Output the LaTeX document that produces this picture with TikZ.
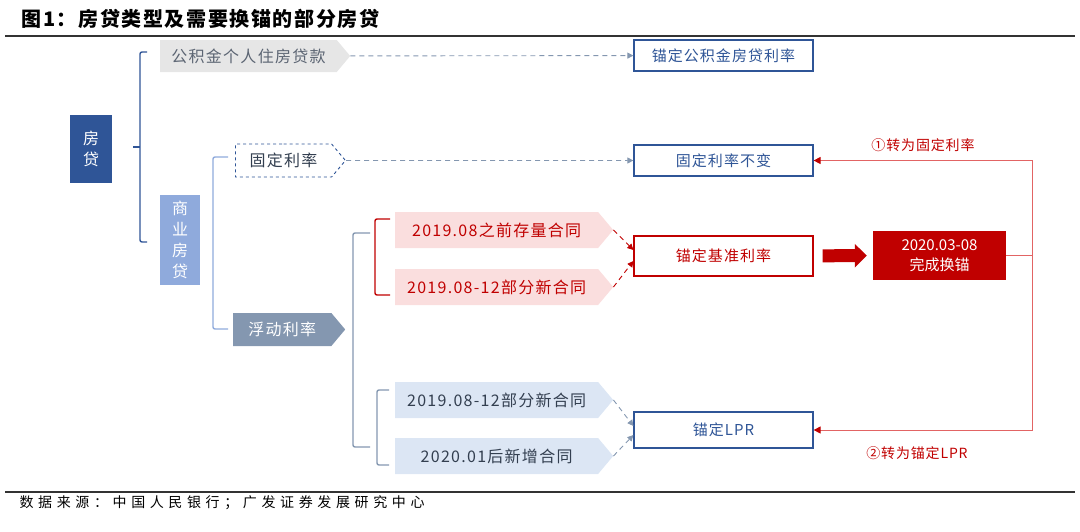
\documentclass[tikz,border=0pt]{standalone}
\usepackage{fontspec}
\setmainfont{Noto Sans CJK SC}
\usetikzlibrary{shapes.symbols,arrows.meta}
\definecolor{dnavy}{HTML}{2F5597}
\definecolor{lblue}{HTML}{8FAADC}
\definecolor{gblue}{HTML}{8497B0}
\definecolor{dred}{HTML}{C00000}
\definecolor{lred}{HTML}{E26464}
\definecolor{pinkf}{HTML}{FADEDE}
\definecolor{bluef}{HTML}{DCE6F4}
\definecolor{grayf}{HTML}{E6E6E6}
\definecolor{dtext}{HTML}{333F50}
\tikzset{
  box/.style={draw=dnavy,line width=1.2pt,fill=white,text=dnavy,minimum width=179pt,inner sep=0pt,
    font=\fontsize{15}{15}\selectfont\addfontfeature{LetterSpace=7}},
  tag/.style={signal,signal to=east,signal pointer angle=100,inner sep=0pt,anchor=west,
    font=\fontsize{16}{16}\selectfont\addfontfeature{LetterSpace=8}},
  vbox/.style={text=white,align=center,inner sep=0pt,font=\fontsize{16}{21}\selectfont},
  link/.style={gblue,line width=0.9pt,dash pattern=on 5pt off 4pt,-{Triangle[length=6pt,width=6pt]}},
  rlink/.style={dred,line width=0.9pt,dash pattern=on 5pt off 4pt,-{Triangle[length=6pt,width=6pt]}},
  swap/.style={lred,line width=0.9pt,-{Triangle[length=7pt,width=7pt,fill=dred,color=dred]}},
  bra/.style={line width=1.4pt,rounded corners=2pt}
}
\begin{document}
\begin{tikzpicture}[x=1pt,y=-1pt]
\useasboundingbox (0,0) rectangle (1080,531);
\node[anchor=west,font=\fontsize{20}{20}\selectfont\bfseries\addfontfeature{LetterSpace=8}] (t1) at (18,19) {图1：房贷类型及需要换锚的部分房贷};
\draw[line width=2pt,black!80] (5,36) -- (1075,36);

\node[vbox,fill=dnavy,minimum width=42pt,minimum height=68pt] (v1) at (91,149) {房\\贷};
\node[vbox,fill=lblue,minimum width=40pt,minimum height=90pt] (v2) at (180,240) {商\\业\\房\\贷};

\node[tag,fill=grayf,text=dtext!80,minimum width=190pt,minimum height=32pt] (v3) at (160,56) {公积金个人住房贷款};
\node[tag,draw=dnavy,dashed,line width=0.9pt,fill=white,text=dtext,minimum width=110pt,minimum height=33pt] (v4) at (235,160.5) {固定利率};
\node[tag,fill=gblue,text=white,minimum width=112pt,minimum height=33pt] (v5) at (233,329.5) {浮动利率};
\node[tag,fill=pinkf,text=dred,minimum width=218pt,minimum height=36pt] (v6) at (395,230) {2019.08之前存量合同};
\node[tag,fill=pinkf,text=dred,minimum width=218pt,minimum height=36pt] (v7) at (395,287) {2019.08-12部分新合同};
\node[tag,fill=bluef,text=dtext,minimum width=218pt,minimum height=36pt] (v8) at (395,400) {2019.08-12部分新合同};
\node[tag,fill=bluef,text=dtext,minimum width=218pt,minimum height=36pt] (v9) at (395,456) {2020.01后新增合同};

\node[box,minimum height=31pt] (v10) at (723.5,55.5) {锚定公积金房贷利率};
\node[box,minimum height=31pt] (v11) at (723.5,160.5) {固定利率不变};
\node[box,draw=dred,text=dred,minimum height=40pt] (v12) at (723.5,256) {锚定基准利率};
\node[box,minimum height=36pt] (v13) at (723.5,430) {锚定LPR};
\node[fill=dred,text=white,align=center,inner sep=0pt,minimum width=133pt,minimum height=49pt,
  font=\fontsize{15}{20}\selectfont] (v14) at (939.5,255.5) {2020.03-08\\完成换锚};

% brackets
\draw[bra,dnavy] (147,52) -- (140,52) -- (140,242) -- (147,242);
\draw[bra,dnavy] (133,147) -- (140,147);
\draw[bra,lblue] (228,157) -- (213,157) -- (213,329) -- (228,329);
\draw[bra,gblue] (370,233) -- (353,233) -- (353,447) -- (370,447);
\draw[bra,dred] (390,219) -- (375,219) -- (375,295) -- (390,295);
\draw[bra,gblue] (389,390) -- (377,390) -- (377,465) -- (389,465);

\draw[link] (v3) edge (v10);
\draw[link] (v4) edge (v11);
\draw[rlink] (v6.east) -- ([yshift=6pt]v12.west);
\draw[rlink] (v7.east) -- ([yshift=-5pt]v12.west);
\draw[link] (v8.east) -- ([yshift=4pt]v13.west);
\draw[link] (v9.east) -- ([yshift=-5pt]v13.west);
\draw[dred,line width=13pt,shorten <=9pt,shorten >=6pt,-{Triangle[length=12pt,width=23pt]}] (v12) -- (v14);

\coordinate (c1) at (1032,255.5);
\draw[lred,line width=0.9pt] (v14) -- (c1);
\draw[swap] (c1) |- (v11);
\draw[swap] (c1) |- (v13);
\node[text=dred,font=\fontsize{14}{14}\selectfont\addfontfeature{LetterSpace=6}] (l1) at (923,145) {①转为固定利率};
\node[text=dred,font=\fontsize{14}{14}\selectfont\addfontfeature{LetterSpace=6}] (l2) at (917,453) {②转为锚定LPR};

\draw[line width=1.2pt,black!80] (5,492) -- (1075,492);
\node[anchor=west,font=\fontsize{14}{14}\selectfont\addfontfeature{LetterSpace=33}] (s1) at (16,503) {数据来源：中国人民银行；广发证券发展研究中心};
\end{tikzpicture}
\end{document}
